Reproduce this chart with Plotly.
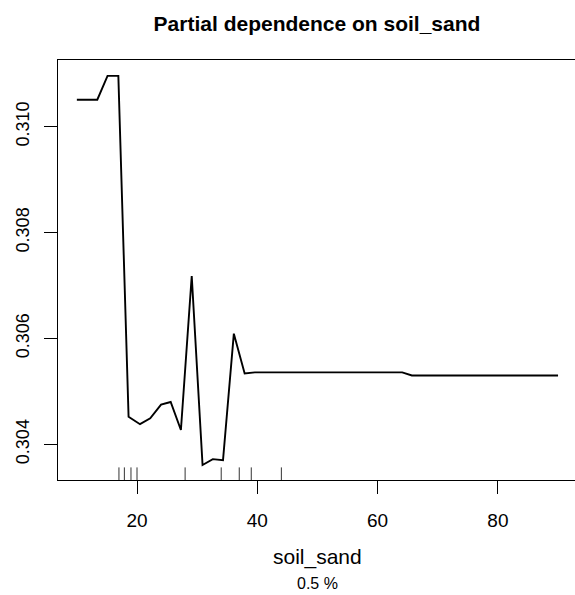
import plotly.graph_objects as go

# Partial dependence curve
pd_x = [10, 13.4, 15.1, 16.9, 18.6, 20.5, 22.2, 24.0, 25.6, 27.3, 29.1, 30.9,
        32.6, 34.3, 36.1, 37.9, 39.6, 64.1, 65.7, 90]
pd_y = [0.31051, 0.31051, 0.31096, 0.31096, 0.30452, 0.30438, 0.30449, 0.30475,
        0.30480, 0.30427, 0.30718, 0.30361, 0.30372, 0.30370, 0.30609, 0.30534,
        0.30536, 0.30536, 0.30530, 0.30530]

# Rug (observed soil_sand values)
rug_x = [17.0, 17.9, 19.0, 20.0, 28.0, 34.0, 37.0, 39.0, 44.0]

x_ticks = [20, 40, 60, 80]
y_ticks = [0.304, 0.306, 0.308, 0.310]
y_tick_labels = ["0.304", "0.306", "0.308", "0.310"]

FONT = "Liberation Sans, Arial, Helvetica, sans-serif"

fig = go.Figure()
fig.add_trace(go.Scatter(x=pd_x, y=pd_y, mode="lines",
                         line=dict(color="black", width=1.9),
                         hoverinfo="skip", showlegend=False))

for rx in rug_x:
    fig.add_shape(type="line", xref="x", yref="y domain",
                  x0=rx, x1=rx, y0=0, y1=0.03,
                  line=dict(color="#333333", width=1))

fig.update_layout(
    width=575, height=595,
    margin=dict(l=58, r=0, t=60, b=115),
    paper_bgcolor="white", plot_bgcolor="white",
    font=dict(family=FONT, color="black"),
    title=dict(text="<b>Partial dependence on soil_sand</b>",
               font=dict(size=21, family=FONT, color="black"),
               xref="container", x=317/575, xanchor="center",
               yref="container", y=1 - 24/595, yanchor="middle"),
    xaxis=dict(range=[6.866, 92.82], tickvals=x_ticks,
               ticks="outside", ticklen=13, tickwidth=1, tickcolor="black",
               ticklabelstandoff=10,
               showline=True, linecolor="black", linewidth=1, mirror=True,
               showgrid=False, zeroline=False,
               tickfont=dict(size=19, family=FONT, color="black")),
    yaxis=dict(range=[0.303326, 0.31126], tickvals=y_ticks, ticktext=y_tick_labels,
               ticks="outside", ticklen=13, tickwidth=1, tickcolor="black",
               tickangle=-90, ticklabelstandoff=8,
               showline=True, linecolor="black", linewidth=1, mirror=False,
               showgrid=False, zeroline=False,
               tickfont=dict(size=18, family=FONT, color="black")),
    annotations=[
        dict(text="soil_sand", xref="paper", yref="paper",
             x=(317 - 58) / 517, y=-(557 - 480) / 420,
             xanchor="center", yanchor="middle", showarrow=False,
             font=dict(size=21, family=FONT, color="black")),
        dict(text="0.5 %", xref="paper", yref="paper",
             x=(317 - 58) / 517, y=-(583 - 480) / 420,
             xanchor="center", yanchor="middle", showarrow=False,
             font=dict(size=16, family=FONT, color="black")),
    ],
)

fig.write_html("out.html", config={"displayModeBar": False},
               post_script="document.body.style.margin='0';document.body.style.padding='0';")
